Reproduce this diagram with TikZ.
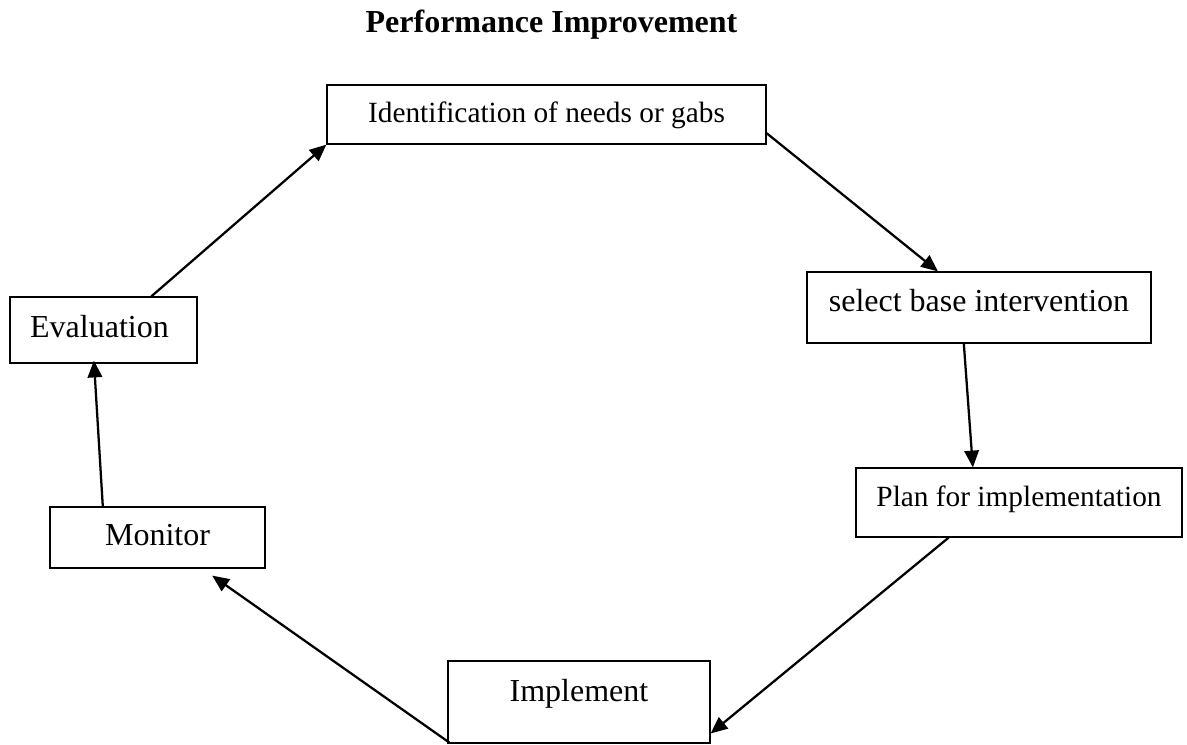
\documentclass[tikz,border=0pt]{standalone}
\usepackage{fontspec}
\setmainfont{Liberation Serif}
\usetikzlibrary{arrows.meta,calc}
\tikzset{
  box/.style={draw, line width=0.45pt, inner sep=0pt, align=center},
  big/.style={font=\fontsize{12}{14}\selectfont},
  small/.style={font=\fontsize{11}{13}\selectfont},
  conn/.style={line width=0.85pt, -{Triangle[length=6.3pt,width=5.4pt]}},
}
\begin{document}
\begin{tikzpicture}[x=0.375pt,y=-0.375pt]
\useasboundingbox (0,0) rectangle (1187,744);
\node[anchor=base, font=\fontsize{12}{14}\selectfont\bfseries] (title) at (551.5,32) {Performance Improvement};
\node[box, small, minimum width=164.625pt, text height=13.875pt, text depth=8.25pt] (ident) at (546.5,114.5) {Identification of needs or gabs};
\node[box, big, minimum width=129pt, text height=14.625pt, text depth=12pt] (sel) at (979,307.5) {select base intervention};
\node[box, small, minimum width=122.25pt, text height=14.25pt, text depth=11.625pt] (plan) at (1019,502.5) {Plan for implementation};
\node[box, big, minimum width=98.25pt, text height=15pt, text depth=15.75pt] (impl) at (579,702) {Implement};
\node[box, big, minimum width=80.625pt, text height=14.25pt, text depth=8.625pt] (mon) at (157.5,537.5) {Monitor};
\node[box, big, minimum width=70.125pt, text height=15pt, text depth=9.75pt] (eval) at (103.5,330) {Evaluation\hspace*{3pt}};
\draw[conn] ($(eval.north west)!0.754!(eval.north east)$) -- (ident.south west);
\draw[conn] ($(ident.north east)!0.81!(ident.south east)$) -- ($(sel.north west)!0.381!(sel.north east)$);
\draw[conn] ($(sel.south west)!0.456!(sel.south east)$) -- ($(plan.north west)!0.359!(plan.north east)$);
\draw[conn] ($(plan.south west)!0.285!(plan.south east)$) -- ($(impl.north east)!0.878!(impl.south east)$);
\draw[conn] ($(impl.south west)+(2,-1)$) -- ($(mon.south west)!0.753!(mon.south east)+(0,7)$);
\draw[conn] ($(mon.north west)!0.247!(mon.north east)$) -- ($(eval.south west)!0.449!(eval.south east)+(0,-3)$);
\end{tikzpicture}
\end{document}
